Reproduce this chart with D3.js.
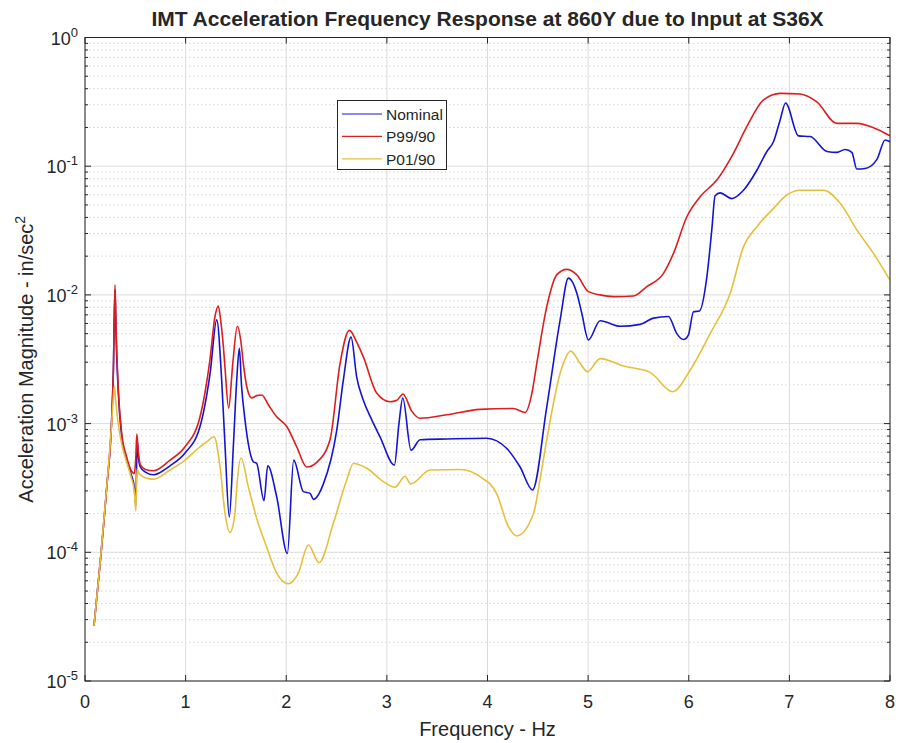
<!DOCTYPE html>
<html>
<head>
<meta charset="utf-8">
<script src="https://cdn.jsdelivr.net/npm/d3@7"></script>
<style>
  body { margin: 0; background: #fff; }
  text { font-family: "Liberation Sans", Arial, Helvetica, sans-serif; fill: #262626; }
</style>
</head>
<body>
<script>
// values (frequency in Hz, magnitude in in/sec^2)
const nominalFreq = [0.09, 0.15, 0.216, 0.265, 0.282, 0.298, 0.31, 0.33, 0.364, 0.414, 0.46, 0.49, 0.505, 0.518, 0.53, 0.55, 0.6, 0.68, 0.845, 0.994, 1.143, 1.243, 1.309, 1.358, 1.392, 1.434, 1.474, 1.508, 1.534, 1.555, 1.59, 1.673, 1.706, 1.779, 1.816, 1.905, 2.011, 2.074, 2.17, 2.237, 2.27, 2.369, 2.502, 2.568, 2.644, 2.7, 2.766, 2.85, 2.932, 3.075, 3.12, 3.158, 3.24, 3.33, 3.6, 3.993, 4.192, 4.324, 4.447, 4.589, 4.722, 4.804, 4.888, 4.937, 5.003, 5.119, 5.318, 5.517, 5.649, 5.798, 5.881, 5.947, 5.997, 6.047, 6.106, 6.18, 6.229, 6.262, 6.312, 6.428, 6.544, 6.677, 6.776, 6.842, 6.909, 6.962, 7.091, 7.207, 7.373, 7.472, 7.555, 7.621, 7.67, 7.753, 7.87, 7.952, 8.0];
const nominalMag = [2.7e-5, 8.2e-5, 3.2e-4, 1.07e-3, 2.6e-3, 1.1e-2, 4.5e-3, 1.8e-3, 8.0e-4, 5.2e-4, 4.0e-4, 3.2e-4, 2.3e-4, 7.5e-4, 5.5e-4, 4.6e-4, 4.2e-4, 4.0e-4, 4.7e-4, 5.9e-4, 9.5e-4, 2.45e-3, 6.4e-3, 2.2e-3, 6.6e-4, 1.88e-4, 6.6e-4, 2.2e-3, 3.85e-3, 2.0e-3, 1.07e-3, 5.06e-4, 4.9e-4, 2.52e-4, 4.7e-4, 2.7e-4, 9.8e-5, 5.2e-4, 2.96e-4, 2.87e-4, 2.58e-4, 3.4e-4, 8.9e-4, 2.2e-3, 4.7e-3, 2.3e-3, 1.52e-3, 1.07e-3, 7.9e-4, 4.77e-4, 1.0e-3, 1.58e-3, 6.2e-4, 7.5e-4, 7.6e-4, 7.7e-4, 6.4e-4, 4.6e-4, 3.05e-4, 1.35e-3, 6.4e-3, 1.35e-2, 1.03e-2, 7.2e-3, 4.47e-3, 6.3e-3, 5.7e-3, 5.9e-3, 6.6e-3, 6.8e-3, 5.0e-3, 4.5e-3, 4.9e-3, 7.4e-3, 7.5e-3, 1.38e-2, 3.2e-2, 5.9e-2, 6.2e-2, 5.6e-2, 6.5e-2, 9.3e-2, 0.13, 0.155, 0.23, 0.31, 0.172, 0.17, 0.13, 0.128, 0.135, 0.128, 0.095, 0.096, 0.113, 0.16, 0.155];

const p99Freq = [0.09, 0.15, 0.216, 0.265, 0.282, 0.298, 0.31, 0.33, 0.364, 0.414, 0.46, 0.49, 0.505, 0.515, 0.53, 0.55, 0.6, 0.68, 0.845, 0.994, 1.143, 1.243, 1.292, 1.325, 1.35, 1.375, 1.39, 1.428, 1.468, 1.514, 1.55, 1.574, 1.607, 1.657, 1.706, 1.756, 1.822, 1.905, 2.005, 2.104, 2.204, 2.303, 2.435, 2.535, 2.627, 2.7, 2.766, 2.9, 3.03, 3.1, 3.16, 3.247, 3.33, 3.595, 3.926, 4.257, 4.374, 4.44, 4.49, 4.589, 4.688, 4.788, 4.888, 5.003, 5.119, 5.25, 5.45, 5.583, 5.749, 5.848, 5.981, 6.113, 6.279, 6.444, 6.577, 6.743, 6.909, 7.107, 7.273, 7.472, 7.67, 7.87, 8.0];
const p99Mag = [2.7e-5, 8.2e-5, 3.2e-4, 1.07e-3, 2.6e-3, 1.2e-2, 5.0e-3, 1.9e-3, 8.5e-4, 5.5e-4, 4.3e-4, 4.1e-4, 5.5e-4, 8.3e-4, 6.0e-4, 4.8e-4, 4.4e-4, 4.3e-4, 5.2e-4, 6.6e-4, 1.13e-3, 3.2e-3, 6.8e-3, 8.2e-3, 6.2e-3, 4.0e-3, 2.8e-3, 1.32e-3, 2.9e-3, 5.7e-3, 4.3e-3, 2.9e-3, 1.95e-3, 1.58e-3, 1.65e-3, 1.67e-3, 1.4e-3, 1.13e-3, 9.5e-4, 6.6e-4, 4.6e-4, 5.0e-4, 7.5e-4, 2.94e-3, 5.3e-3, 4.3e-3, 3.3e-3, 1.72e-3, 1.48e-3, 1.52e-3, 1.7e-3, 1.25e-3, 1.1e-3, 1.17e-3, 1.29e-3, 1.31e-3, 1.22e-3, 1.7e-3, 2.94e-3, 8.1e-3, 1.43e-2, 1.58e-2, 1.43e-2, 1.06e-2, 1.0e-2, 9.7e-3, 9.8e-3, 1.16e-2, 1.47e-2, 2.1e-2, 4.05e-2, 5.8e-2, 7.8e-2, 0.126, 0.203, 0.327, 0.368, 0.364, 0.316, 0.215, 0.215, 0.194, 0.172];

const p01Freq = [0.09, 0.15, 0.216, 0.265, 0.282, 0.292, 0.305, 0.33, 0.364, 0.414, 0.46, 0.49, 0.505, 0.518, 0.53, 0.55, 0.6, 0.68, 0.845, 0.994, 1.143, 1.209, 1.282, 1.342, 1.392, 1.441, 1.49, 1.508, 1.551, 1.624, 1.706, 1.805, 1.905, 2.021, 2.12, 2.22, 2.326, 2.468, 2.601, 2.667, 2.8, 2.965, 3.081, 3.18, 3.237, 3.43, 3.728, 3.926, 4.092, 4.208, 4.291, 4.457, 4.523, 4.589, 4.722, 4.828, 4.92, 4.993, 5.119, 5.351, 5.616, 5.841, 6.014, 6.213, 6.412, 6.544, 6.677, 6.842, 6.975, 7.107, 7.339, 7.505, 7.67, 7.836, 8.0];
const p01Mag = [2.7e-5, 8.2e-5, 3.2e-4, 1.0e-3, 1.6e-3, 1.95e-3, 1.5e-3, 1.0e-3, 7.0e-4, 5.0e-4, 3.8e-4, 3.0e-4, 2.1e-4, 4.5e-4, 4.2e-4, 4.0e-4, 3.8e-4, 3.7e-4, 4.36e-4, 5.2e-4, 6.6e-4, 7.2e-4, 7.9e-4, 4.6e-4, 2.0e-4, 1.43e-4, 2.0e-4, 3.2e-4, 5.4e-4, 3.2e-4, 1.84e-4, 1.1e-4, 6.9e-5, 5.7e-5, 6.9e-5, 1.14e-4, 8.3e-5, 1.68e-4, 3.65e-4, 4.9e-4, 4.5e-4, 3.54e-4, 3.2e-4, 3.9e-4, 3.4e-4, 4.36e-4, 4.4e-4, 3.87e-4, 2.84e-4, 1.58e-4, 1.34e-4, 2.0e-4, 3.7e-4, 7.5e-4, 2.46e-3, 3.66e-3, 2.94e-3, 2.53e-3, 3.2e-3, 2.8e-3, 2.5e-3, 1.77e-3, 2.6e-3, 5.0e-3, 1.03e-2, 2.37e-2, 3.39e-2, 4.7e-2, 5.97e-2, 6.5e-2, 6.5e-2, 5.15e-2, 3.2e-2, 2.1e-2, 1.3e-2];

const seriesNames = ["Nominal", "P99/90", "P01/90"];
const seriesColors = ["#1414d2", "#dc1e1e", "#e6c03c"];
const xTicks = [0, 1, 2, 3, 4, 5, 6, 7, 8];
const yExps = [-5, -4, -3, -2, -1, 0];

const W = 899, H = 743;
const L = 85, R = 890, T = 37.5, B = 681;

const svg = d3.select("body").append("svg")
  .attr("width", W)
  .attr("height", H);

const x = d3.scaleLinear().domain([0, 8]).range([L, R]);
const y = d3.scaleLog().domain([1e-5, 1]).range([B, T]);

const allY = y.ticks(); // 1..9 x 10^k
const isMajor = v => Math.abs(Math.log10(v) - Math.round(Math.log10(v))) < 1e-9;

// grid
const grid = svg.append("g");
grid.selectAll("line.minor")
  .data(allY.filter(v => !isMajor(v)))
  .enter().append("line")
  .attr("class", "minor")
  .attr("x1", L).attr("x2", R)
  .attr("y1", d => y(d)).attr("y2", d => y(d))
  .attr("stroke", "#d4d4d4")
  .attr("stroke-width", 1)
  .attr("stroke-dasharray", "1.5,2.5");

grid.selectAll("line.ymaj")
  .data(allY.filter(isMajor))
  .enter().append("line")
  .attr("x1", L).attr("x2", R)
  .attr("y1", d => y(d)).attr("y2", d => y(d))
  .attr("stroke", "#dcdcdc");

grid.selectAll("line.xmaj")
  .data(xTicks)
  .enter().append("line")
  .attr("x1", d => x(d)).attr("x2", d => x(d))
  .attr("y1", T).attr("y2", B)
  .attr("stroke", "#dcdcdc");

// curves
svg.append("clipPath").attr("id", "clip")
  .append("rect").attr("x", L).attr("y", T).attr("width", R - L).attr("height", B - T);

const line = d3.line()
  .x(d => x(d[0]))
  .y(d => y(d[1]))
  .curve(d3.curveMonotoneX);

const series = [
  d3.zip(nominalFreq, nominalMag),
  d3.zip(p99Freq, p99Mag),
  d3.zip(p01Freq, p01Mag)
];

svg.append("g").attr("clip-path", "url(#clip)")
  .selectAll("path")
  .data(series)
  .enter().append("path")
  .attr("d", line)
  .attr("fill", "none")
  .attr("stroke", (d, i) => seriesColors[i])
  .attr("stroke-width", 1.6)
  .attr("stroke-linejoin", "round");

// box + ticks
const ax = svg.append("g").attr("stroke", "#262626");
ax.append("rect")
  .attr("x", L).attr("y", T).attr("width", R - L).attr("height", B - T)
  .attr("fill", "none").attr("stroke-width", 1);

xTicks.forEach(t => {
  ax.append("line").attr("x1", x(t)).attr("x2", x(t)).attr("y1", B).attr("y2", B - 6);
  ax.append("line").attr("x1", x(t)).attr("x2", x(t)).attr("y1", T).attr("y2", T + 6);
});
allY.forEach(v => {
  const len = isMajor(v) ? 6 : 3;
  ax.append("line").attr("x1", L).attr("x2", L + len).attr("y1", y(v)).attr("y2", y(v));
  ax.append("line").attr("x1", R).attr("x2", R - len).attr("y1", y(v)).attr("y2", y(v));
});

// tick labels
svg.append("g").selectAll("text")
  .data(xTicks)
  .enter().append("text")
  .attr("x", d => x(d))
  .attr("y", 708)
  .attr("text-anchor", "middle")
  .attr("font-size", 18)
  .text(d => d);

const yl = svg.append("g").selectAll("text")
  .data(yExps)
  .enter().append("text")
  .attr("x", 78)
  .attr("y", d => y(Math.pow(10, d)) + 7)
  .attr("text-anchor", "end")
  .attr("font-size", 18);
yl.append("tspan").text("10");
yl.append("tspan").attr("dy", -8).attr("font-size", 13).text(d => d);

// title and axis labels
svg.append("text")
  .attr("x", (L + R) / 2).attr("y", 26)
  .attr("text-anchor", "middle")
  .attr("font-size", 21)
  .attr("font-weight", "bold")
  .attr("fill", "#000")
  .text("IMT Acceleration Frequency Response at 860Y due to Input at S36X");

svg.append("text")
  .attr("x", (L + R) / 2).attr("y", 736)
  .attr("text-anchor", "middle")
  .attr("font-size", 20)
  .text("Frequency - Hz");

const ylab = svg.append("text")
  .attr("transform", `translate(33,${(T + B) / 2}) rotate(-90)`)
  .attr("text-anchor", "middle")
  .attr("font-size", 20);
ylab.append("tspan").text("Acceleration Magnitude - in/sec");
ylab.append("tspan").attr("dy", -8).attr("font-size", 14).text("2");

// legend
const lg = svg.append("g");
lg.append("rect")
  .attr("x", 337.5).attr("y", 100.5).attr("width", 109).attr("height", 69)
  .attr("fill", "#fff").attr("stroke", "#262626");
const rows = lg.selectAll("g.row")
  .data(seriesNames)
  .enter().append("g")
  .attr("transform", (d, i) => `translate(0,${114 + i * 22.4})`);
rows.append("line")
  .attr("x1", 342).attr("x2", 382)
  .attr("stroke", (d, i) => seriesColors[i])
  .attr("stroke-width", 1.2);
rows.append("text")
  .attr("x", 386).attr("y", 6)
  .attr("font-size", 15.5)
  .text(d => d);
</script>
</body>
</html>
